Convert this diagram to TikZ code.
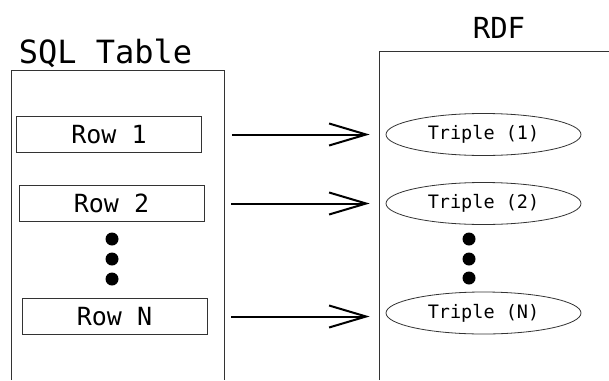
\documentclass[tikz,border=0pt]{standalone}
\usepackage{fontspec}
\setmonofont{DejaVu Sans Mono}
\usetikzlibrary{shapes.geometric,arrows.meta}
\tikzset{
  frame/.style={draw=black!80, line width=0.9pt},
  title/.style={font=\ttfamily\fontsize{#1}{#1}\selectfont, inner sep=0pt, anchor=base},
  rowbox/.style={draw=black!80, line width=0.9pt, rectangle, inner sep=0pt,
    minimum width=185pt, minimum height=36pt,
    font=\ttfamily\fontsize{25}{25}\selectfont},
  triple/.style={draw=black!80, line width=0.8pt, ellipse, inner sep=0pt,
    minimum width=195pt, minimum height=42pt,
    font=\ttfamily\fontsize{18.5}{18.5}\selectfont},
  dot/.style={circle, fill=black, inner sep=0pt, minimum size=13pt},
  arr/.style={draw=black, line width=2pt,
    -{Straight Barb[length=37pt, width=22pt, line width=2pt]}},
}
\begin{document}
\begin{tikzpicture}[x=1pt, y=-1pt]
  \useasboundingbox[fill=white] (0,0) rectangle (609,380);

  % SQL table container (open at the bottom)
  \draw[frame] (11,380) -- (11,70) -- (224,70) -- (224,380);
  \node[title=32] (sqltitle) at (105.5,63) {SQL Table};

  % RDF container (open at the bottom and right)
  \draw[frame] (379,380) -- (379,51) -- (609,51);
  \node[title=29] (rdftitle) at (499,38.5) {RDF};

  % rows
  \node[rowbox] (r1) at (109,134.5) {Row 1};
  \node[rowbox] (r2) at (111.5,203.5) {Row 2};
  \node[rowbox] (rN) at (114.5,316.5) {Row N};

  \node[dot] (ld1) at (112,239) {};
  \node[dot] (ld2) at (112,259) {};
  \node[dot] (ld3) at (112,279) {};

  % triples
  \node[triple] (t1) at (483.5,134.5) {Triple (1)};
  \node[triple] (t2) at (483.5,203.5) {Triple (2)};
  \node[triple] (tN) at (483.5,313) {Triple (N)};

  \node[dot] (rd1) at (469,239) {};
  \node[dot] (rd2) at (469,259) {};
  \node[dot] (rd3) at (469,278) {};

  % mappings
  \draw[arr, shorten <=30pt, shorten >=16pt] (r1.east) -- (r1.east -| t1.west);
  \draw[arr, shorten <=27pt, shorten >=16pt] (r2.east) -- (r2.east -| t2.west);
  \draw[arr, shorten <=24pt, shorten >=16pt] (rN.east) -- (rN.east -| tN.west);
\end{tikzpicture}
\end{document}
